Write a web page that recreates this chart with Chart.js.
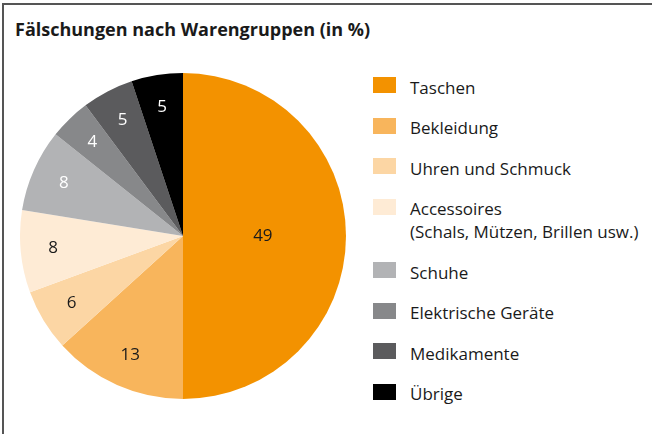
<!DOCTYPE html>
<html>
<head>
<meta charset="utf-8">
<script src="https://cdn.jsdelivr.net/npm/chart.js@4"></script>
<style>
  body { margin: 0; background: #fff; font-family: "Open Sans", sans-serif; color: #1a1a1a; }
  #frame { position: absolute; left: 2px; top: 3px; width: 652px; height: 440px;
           border-top: 2px solid #555; border-left: 2px solid #555; }
  #title { position: absolute; left: 15px; top: 17px; font-weight: bold; font-size: 18px; line-height: 24px; margin: 0; }
  #pie { position: absolute; left: 20px; top: 73px; }
  #legend { position: absolute; left: 373px; top: 75.5px; margin: 0; padding: 0; list-style: none; }
  #legend li { position: relative; padding-left: 37px; line-height: 23px; font-size: 17px; margin-bottom: 17.5px; }
  #legend .box { position: absolute; left: 0; top: 1.5px; width: 23px; height: 16px; }
</style>
</head>
<body>
<div id="frame"></div>
<h1 id="title">Fälschungen nach Warengruppen (in %)</h1>
<canvas id="pie" width="326" height="326"></canvas>
<ul id="legend"></ul>
<script>
const categories = [
  "Taschen",
  "Bekleidung",
  "Uhren und Schmuck",
  ["Accessoires", "(Schals, Mützen, Brillen usw.)"],
  "Schuhe",
  "Elektrische Geräte",
  "Medikamente",
  "Übrige"
];
const shares = [49, 13, 6, 8, 8, 4, 5, 5];
const colors = ["#F39200", "#F8B55C", "#FCD6A4", "#FEEBD5", "#B2B3B5", "#87888A", "#5B5B5D", "#000000"];
const labelColors = ["#1a1a1a", "#1a1a1a", "#1a1a1a", "#1a1a1a", "#ffffff", "#ffffff", "#ffffff", "#ffffff"];

// legend next to the pie
const legend = document.getElementById('legend');
categories.forEach(function (cat, i) {
  const li = document.createElement('li');
  const box = document.createElement('span');
  box.className = 'box';
  box.style.background = colors[i];
  li.appendChild(box);
  const lines = Array.isArray(cat) ? cat : [cat];
  lines.forEach(function (line, j) {
    if (j > 0) li.appendChild(document.createElement('br'));
    li.appendChild(document.createTextNode(line));
  });
  legend.appendChild(li);
});

// numbers inside the slices
const sliceLabels = {
  id: 'sliceLabels',
  afterDatasetsDraw(chart) {
    const ctx = chart.ctx;
    const meta = chart.getDatasetMeta(0);
    ctx.save();
    ctx.font = '17px "Open Sans"';
    ctx.textAlign = 'center';
    ctx.textBaseline = 'middle';
    meta.data.forEach(function (arc, i) {
      const p = arc.getProps(['x', 'y', 'startAngle', 'endAngle', 'outerRadius'], true);
      const mid = (p.startAngle + p.endAngle) / 2;
      const r = p.outerRadius * (shares[i] > 25 ? 0.49 : 0.8);
      ctx.fillStyle = labelColors[i];
      ctx.fillText(String(shares[i]), p.x + Math.cos(mid) * r, p.y + Math.sin(mid) * r);
    });
    ctx.restore();
  }
};

new Chart(document.getElementById('pie').getContext('2d'), {
  type: 'pie',
  data: {
    labels: categories.map(c => Array.isArray(c) ? c.join(' ') : c),
    datasets: [{
      data: shares,
      backgroundColor: colors,
      borderWidth: 0
    }]
  },
  options: {
    responsive: false,
    animation: false,
    layout: { padding: 0 },
    plugins: {
      legend: { display: false },
      tooltip: { enabled: false }
    }
  },
  plugins: [sliceLabels]
});
</script>
</body>
</html>
